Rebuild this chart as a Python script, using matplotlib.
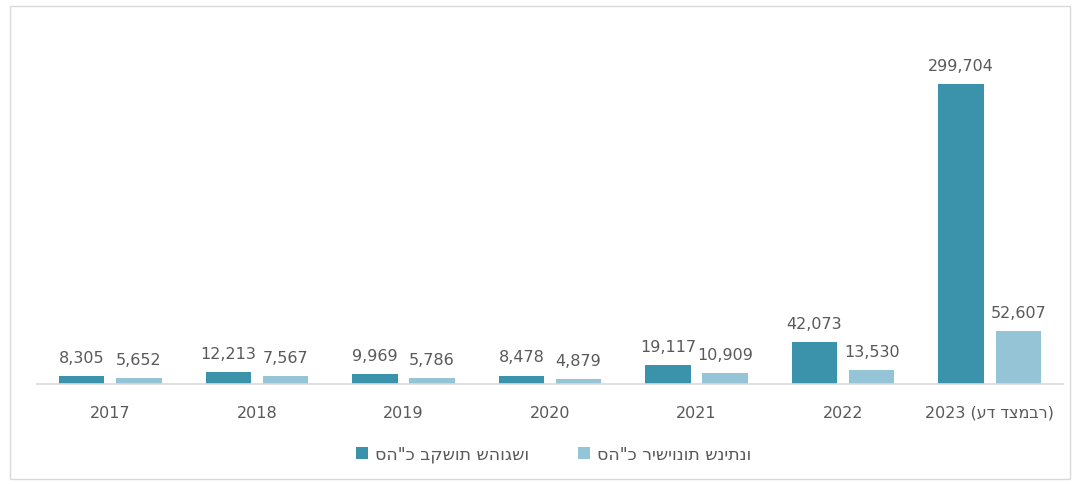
import matplotlib.pyplot as plt
import numpy as np
from matplotlib.patches import Rectangle

plt.rcParams['font.family'] = ['DejaVu Sans']

years = ['2017', '2018', '2019', '2020', '2021', '2022', '2023 (עד דצמבר)']
submitted = [8305, 12213, 9969, 8478, 19117, 42073, 299704]
granted = [5652, 7567, 5786, 4879, 10909, 13530, 52607]
label_submitted = 'סה"כ בקשות שהוגשו'
label_granted = 'סה"כ רישיונות שניתנו'

dark = '#3a93ab'
light = '#95c4d6'
text_color = '#595959'

fig = plt.figure(figsize=(10.79, 4.85), dpi=100)
ax = fig.add_axes([37 / 1079, 100 / 485, 1026 / 1079, 350 / 485])

x = np.arange(len(years))
width = 0.31
off = 0.195

b1 = ax.bar(x - off, submitted, width, color=dark, label=label_submitted)
b2 = ax.bar(x + off, granted, width, color=light, label=label_granted)

for bars, vals in ((b1, submitted), (b2, granted)):
    for rect, v in zip(bars, vals):
        ax.annotate(f'{v:,}', (rect.get_x() + rect.get_width() / 2, rect.get_height()),
                    xytext=(0, 8), textcoords='offset points', ha='center', va='bottom',
                    fontsize=11.5, color=text_color)

ax.set_xlim(-0.5, len(years) - 0.5)
ax.set_ylim(0, 350000)
ax.set_xticks(x)
ax.set_xticklabels(years, fontsize=11.5, color=text_color)
ax.tick_params(axis='x', length=0, pad=15)
ax.set_yticks([])
for side in ('top', 'right', 'left'):
    ax.spines[side].set_visible(False)
ax.spines['bottom'].set_color('#d9d9d9')
ax.spines['bottom'].set_linewidth(1.2)

leg = fig.legend(handles=[b1, b2], loc='center', bbox_to_anchor=(0.513, 30 / 485),
                 ncol=2, frameon=False, fontsize=12.5, handlelength=0.7, handleheight=0.7,
                 columnspacing=2.8, handletextpad=0.4)
for t in leg.get_texts():
    t.set_color(text_color)

fig.patches.append(Rectangle((10 / 1079, 5 / 485), 1060 / 1079, 473 / 485,
                             transform=fig.transFigure, fill=False,
                             edgecolor='#d9d9d9', linewidth=1))

plt.savefig('out.png', dpi=100)
